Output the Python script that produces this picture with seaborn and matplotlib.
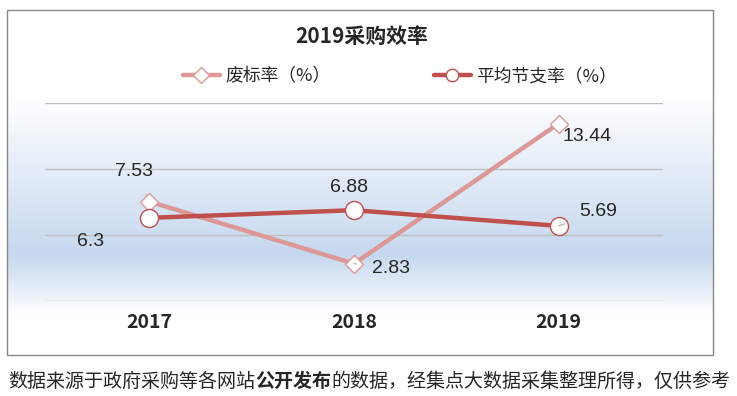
import numpy as np
import pandas as pd
import seaborn as sns
import matplotlib.pyplot as plt
from matplotlib.colors import LinearSegmentedColormap
from matplotlib.lines import Line2D
from matplotlib.patches import Rectangle

# 数据
years = ["2017", "2018", "2019"]
fail_rate = [7.53, 2.83, 13.44]      # 废标率（%）
saving_rate = [6.3, 6.88, 5.69]      # 平均节支率（%）
series_names = ["废标率（%）", "平均节支率（%）"]

W, H = 737, 396
sns.set_style("white")
plt.rcParams['font.family'] = ['Noto Sans CJK SC', 'DejaVu Sans']

fig = plt.figure(figsize=(W / 100, H / 100), dpi=100)

def fx(px):
    return px / W

def fy(py):
    return 1 - py / H

# 图表区渐变背景
bx0, by0, bx1, by1 = 7, 10, 713, 355
bg = fig.add_axes([fx(bx0), fy(by1), fx(bx1 - bx0), (by1 - by0) / H], zorder=0)
stops = [(0.0, "#ffffff"), ((95 - by0) / (by1 - by0), "#ffffff"),
         ((255 - by0) / (by1 - by0), "#c6d8ef"),
         ((316 - by0) / (by1 - by0), "#ffffff"), (1.0, "#ffffff")]
cmap = LinearSegmentedColormap.from_list("bg", stops)
bg.imshow(np.linspace(0, 1, 300).reshape(-1, 1), aspect="auto", cmap=cmap,
          extent=[0, 1, 1, 0])
bg.set_axis_off()
fig.patches.append(Rectangle((fx(bx0), fy(by1)), fx(bx1 - bx0), (by1 - by0) / H,
                             transform=fig.transFigure, fill=False,
                             edgecolor="#868686", lw=1.0, zorder=5))

# 绘图区
ax = fig.add_axes([fx(45), fy(301), fx(618), 198 / H], zorder=1)
ax.patch.set_alpha(0)

pink = "#dc9896"
red = "#c0504d"
df = pd.DataFrame({"year": years, "fail": fail_rate, "saving": saving_rate})
sns.lineplot(data=df, x="year", y="fail", ax=ax, color=pink, lw=3.2,
             marker="D", markersize=9, markerfacecolor="white",
             markeredgecolor=pink, markeredgewidth=1.0, zorder=3)
sns.lineplot(data=df, x="year", y="saving", ax=ax, color=red, lw=3.2,
             marker="o", markersize=13, markerfacecolor="white",
             markeredgecolor=red, markeredgewidth=1.0, zorder=4)

ax.set_xlim(-0.51, 2.51)
ax.set_ylim(0, 15)
ax.set_yticks([0, 5, 10, 15])
ax.set_yticklabels([])
ax.grid(axis="y", color="#bfbfbf", lw=1.0)
ax.grid(axis="x", visible=False)
for s in ax.spines.values():
    s.set_visible(False)
ax.set_xlabel("")
ax.set_ylabel("")
ax.tick_params(axis="both", length=0)
ax.tick_params(axis="x", pad=9)
for t in ax.get_xticklabels():
    t.set_fontsize(14)
    t.set_fontweight("bold")

# 数据标签
leader = dict(arrowstyle="-", color="#a6a6a6", lw=0.8, shrinkA=9, shrinkB=5)
offsets_fail = [(-15, 30), (37, -5), (28, -13)]
offsets_save = [(-59, -24), (-5, 23), (40, 14)]
for i, (v, off) in enumerate(zip(fail_rate, offsets_fail)):
    ax.annotate(f"{v:g}", (i, v), xytext=off, textcoords="offset pixels",
                ha="center", va="center", fontsize=14,
                family=["Liberation Sans", "DejaVu Sans"], zorder=6,
                arrowprops=leader if i < 2 else None)
for i, (v, off) in enumerate(zip(saving_rate, offsets_save)):
    ax.annotate(f"{v:g}", (i, v), xytext=off, textcoords="offset pixels",
                ha="center", va="center", fontsize=14,
                family=["Liberation Sans", "DejaVu Sans"], zorder=6,
                arrowprops=leader if i == 2 else None)

# 标题与图例
fig.text(fx(362), fy(36), "2019采购效率", ha="center", va="center",
         fontsize=15, fontweight="bold")
handles = [
    Line2D([], [], color=pink, lw=3.2, marker="D", markersize=8,
           markerfacecolor="white", markeredgecolor=pink),
    Line2D([], [], color=red, lw=3.2, marker="o", markersize=9,
           markerfacecolor="white", markeredgecolor=red),
]
fig.legend(handles, series_names, loc="center", bbox_to_anchor=(fx(400), fy(76)),
           ncol=2, frameon=False, fontsize=12.8, handlelength=2.1,
           handletextpad=0.3, columnspacing=5.8)

# 底部说明文字（“公开发布”加粗）
cap_size = 13.7
t1 = fig.text(fx(8), fy(381), "数据来源于政府采购等各网站", ha="left", va="center",
              fontsize=cap_size)
t2 = fig.text(0, fy(381), "公开发布", fontsize=cap_size, fontweight="bold",
              ha="left", va="center")
t3 = fig.text(0, fy(381), "的数据，经集点大数据采集整理所得，仅供参考", fontsize=cap_size,
              ha="left", va="center")
fig.canvas.draw()
r = fig.canvas.get_renderer()
inv = fig.transFigure.inverted()
t2.set_x(inv.transform((t1.get_window_extent(r).x1, 0))[0])
fig.canvas.draw()
t3.set_x(inv.transform((t2.get_window_extent(r).x1, 0))[0])

fig.savefig("out.png", dpi=100)
